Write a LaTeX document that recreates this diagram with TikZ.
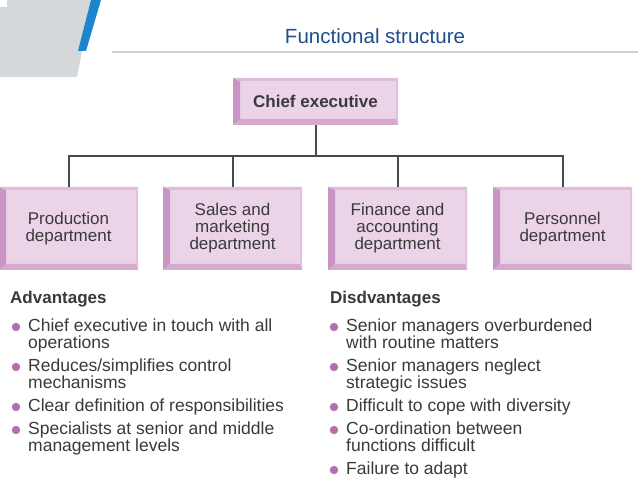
\documentclass[tikz,border=0pt]{standalone}
\usepackage{fontspec}
\setmainfont{Liberation Sans}
\definecolor{titleblue}{HTML}{1F4E8C}
\definecolor{stripeblue}{HTML}{1A86CC}
\definecolor{cornergray}{HTML}{D5D8DB}
\definecolor{rulegray}{HTML}{CFCFCF}
\definecolor{boxfill}{HTML}{EBD3E8}
\definecolor{bevL}{HTML}{C995C5}
\definecolor{bevB}{HTML}{D6A9D0}
\definecolor{bevT}{HTML}{DEBCDA}
\definecolor{bevR}{HTML}{E0C2DC}
\definecolor{textgray}{HTML}{3A3A3A}
\definecolor{linegray}{HTML}{4A4A4A}
\definecolor{dotpurple}{HTML}{B46FB0}
\tikzset{
  bevelbox/.style={rectangle, fill=boxfill, text=textgray, align=center, inner sep=0pt,
    path picture={
      \fill[bevL] (path picture bounding box.south west) -- (path picture bounding box.north west)
        -- ([shift={(7pt,-3pt)}]path picture bounding box.north west)
        -- ([shift={(7pt,6pt)}]path picture bounding box.south west) -- cycle;
      \fill[bevT] (path picture bounding box.north west) -- (path picture bounding box.north east)
        -- ([shift={(-2pt,-3pt)}]path picture bounding box.north east)
        -- ([shift={(7pt,-3pt)}]path picture bounding box.north west) -- cycle;
      \fill[bevR] (path picture bounding box.north east) -- (path picture bounding box.south east)
        -- ([shift={(-2pt,6pt)}]path picture bounding box.south east)
        -- ([shift={(-2pt,-3pt)}]path picture bounding box.north east) -- cycle;
      \fill[bevB] (path picture bounding box.south west) -- (path picture bounding box.south east)
        -- ([shift={(-2pt,6pt)}]path picture bounding box.south east)
        -- ([shift={(7pt,6pt)}]path picture bounding box.south west) -- cycle;
    }},
  chiefbox/.style={bevelbox, minimum width=165pt, minimum height=47pt,
    font=\fontsize{17}{17}\selectfont\bfseries},
  deptbox/.style={bevelbox, minimum width=139pt, minimum height=83pt,
    font=\fontsize{17}{17}\selectfont},
  orgline/.style={draw=linegray, line width=2pt},
  headtext/.style={anchor=base west, inner sep=0pt, text=textgray,
    font=\fontsize{17}{17}\selectfont\bfseries},
  itemtext/.style={anchor=base west, inner sep=0pt, text=textgray,
    font=\fontsize{17.5}{17}\selectfont},
  dot/.style={circle, fill=dotpurple, inner sep=0pt, minimum size=8.4pt},
}
\newcommand{\itm}[1]{\parbox[t]{290pt}{\raggedright #1}}
\begin{document}
\begin{tikzpicture}[x=1pt, y=-1pt]
\useasboundingbox (0,0) rectangle (638,478);
\fill[white] (0,0) rectangle (638,478);
% corner decoration
\fill[cornergray] (0,7) -- (7,7) -- (7,0) -- (92,0) -- (77,77) -- (0,77) -- cycle;
\fill[stripeblue] (91,0) -- (101,0) -- (86,51) -- (78,51) -- cycle;
% title
\node[text=titleblue, font=\fontsize{20.5}{20.5}\selectfont, inner sep=0pt] (title) at (375,36) {Functional structure};
\draw[rulegray, line width=1.2pt] (112,52) -- (638,52);
% org chart
\node[chiefbox] (chief) at (315.5,101.5) {Chief executive};
\node[deptbox] (d1) at (68.5,228.5) {Production\\department};
\node[deptbox] (d2) at (232.5,228.5) {Sales and\\marketing\\department};
\node[deptbox] (d3) at (397.5,228.5) {Finance and\\accounting\\department};
\node[deptbox] (d4) at (562.5,228.5) {Personnel\\department};
\coordinate (bus) at (315.5,156);
\draw[orgline] (chief.south) -- (bus);
\draw[orgline] (d1.north) -- (d1.north |- bus) -- (d4.north |- bus) -- (d4.north);
\draw[orgline] (d2.north) -- (d2.north |- bus);
\draw[orgline] (d3.north) -- (d3.north |- bus);
% advantages
\node[headtext] (advh) at (10,304) {Advantages};
\node[dot] (ba1) at (16,327) {};
\node[itemtext] (a1) at (28,331.5) {\itm{Chief executive in touch with all\\operations}};
\node[dot] (ba2) at (16,367) {};
\node[itemtext] (a2) at (28,371.5) {\itm{Reduces/simplifies control\\mechanisms}};
\node[dot] (ba3) at (16,407) {};
\node[itemtext] (a3) at (28,411.5) {\itm{Clear definition of responsibilities}};
\node[dot] (ba4) at (16,430) {};
\node[itemtext] (a4) at (28,434.5) {\itm{Specialists at senior and middle\\management levels}};
% disadvantages
\node[headtext] (dish) at (330,304) {Disdvantages};
\node[dot] (bb1) at (334,327) {};
\node[itemtext] (b1) at (346,331.5) {\itm{Senior managers overburdened\\with routine matters}};
\node[dot] (bb2) at (334,367) {};
\node[itemtext] (b2) at (346,371.5) {\itm{Senior managers neglect\\strategic issues}};
\node[dot] (bb3) at (334,407) {};
\node[itemtext] (b3) at (346,411.5) {\itm{Difficult to cope with diversity}};
\node[dot] (bb4) at (334,430) {};
\node[itemtext] (b4) at (346,434.5) {\itm{Co-ordination between\\functions difficult}};
\node[dot] (bb5) at (334,470) {};
\node[itemtext] (b5) at (346,474.5) {\itm{Failure to adapt}};
\end{tikzpicture}
\end{document}
